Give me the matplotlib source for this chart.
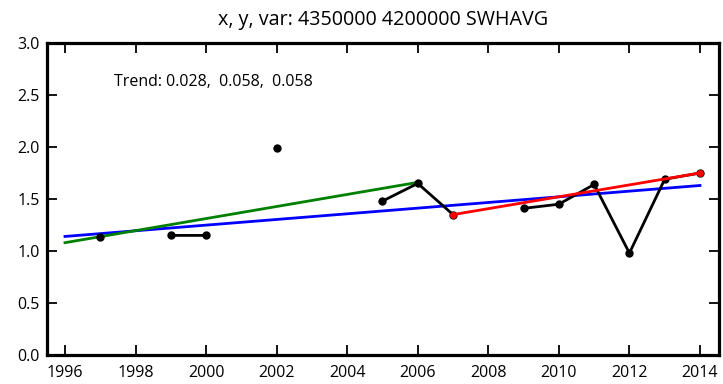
import numpy as np
import matplotlib.pyplot as plt

# yearly values (NaN = missing year)
years = [1997, 1998, 1999, 2000, 2001, 2002, 2003, 2004, 2005, 2006, 2007, 2008,
         2009, 2010, 2011, 2012, 2013, 2014]
values = [1.13, np.nan, 1.15, 1.15, np.nan, 1.99, np.nan, np.nan, 1.48, 1.65, 1.35, np.nan,
          1.41, 1.45, 1.64, 0.98, 1.69, 1.75]

# trend lines: (x start, x end), (y start, y end)
trend_all_x = [1996, 2014]
trend_all_y = [1.14, 1.63]
trend_early_x = [1996, 2006]
trend_early_y = [1.08, 1.66]
trend_late_x = [2007, 2014]
trend_late_y = [1.35, 1.75]

title = "x, y, var: 4350000 4200000 SWHAVG"
trend_text = "Trend: 0.028,  0.058,  0.058"

plt.rcParams['font.family'] = ['Open Sans', 'DejaVu Sans']

fig, ax = plt.subplots(figsize=(7.23, 3.84), dpi=100)
fig.subplots_adjust(left=0.065, right=0.9945, top=0.888, bottom=0.0755)

ax.plot(years, values, color='black', lw=2, marker='o', ms=5, zorder=3)
ax.plot(trend_all_x, trend_all_y, color='blue', lw=2, zorder=2)
ax.plot(trend_early_x, trend_early_y, color='green', lw=2, zorder=2)
ax.plot(trend_late_x, trend_late_y, color='red', lw=2, marker='o', ms=4, zorder=4)

ax.set_xlim(1995.49, 2014.54)
ax.set_ylim(0, 3)
ax.set_xticks(range(1996, 2015, 2))
ax.set_yticks(np.arange(0, 3.01, 0.5))
ax.set_yticklabels([f"{v:.1f}" for v in np.arange(0, 3.01, 0.5)])
ax.tick_params(direction='in', length=7, width=1.3, top=True, right=True,
               labelsize=11.5, pad=5)
ax.tick_params(axis='x', pad=7)
for s in ax.spines.values():
    s.set_linewidth(2.3)

ax.set_title(title, fontsize=14.2, pad=13)
ax.text(0.1, 0.875, trend_text, transform=ax.transAxes, fontsize=11.5,
        va='center', ha='left')

fig.savefig('out.png', dpi=100)
